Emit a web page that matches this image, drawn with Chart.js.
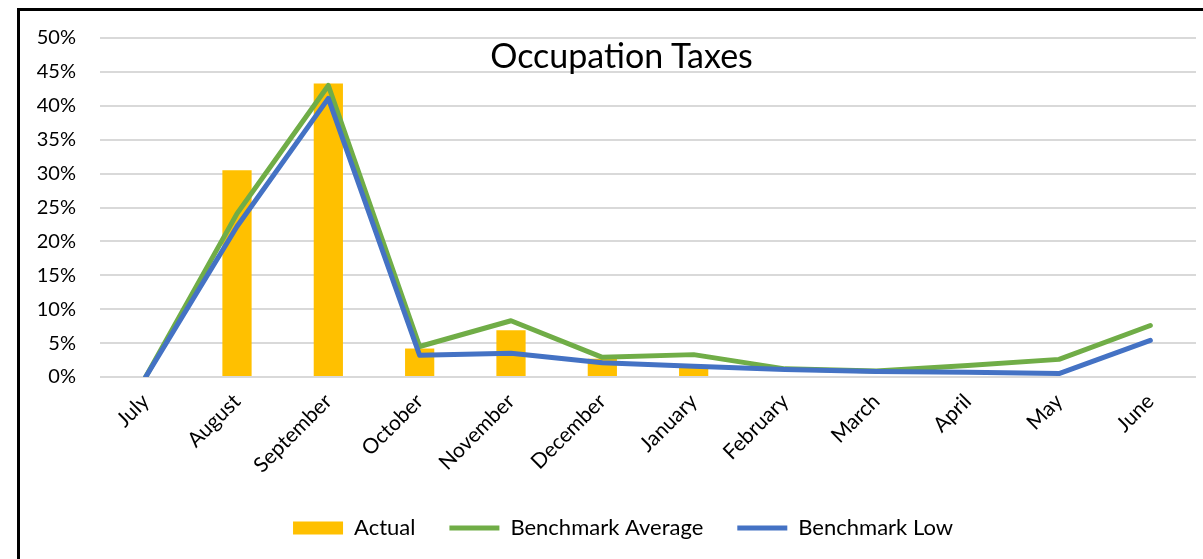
<!DOCTYPE html>
<html>
<head>
<meta charset="utf-8">
<script src="https://cdn.jsdelivr.net/npm/chart.js@4/dist/chart.umd.min.js"></script>
<style>
  html, body { margin: 0; padding: 0; background: #fff; width: 1203px; height: 559px; overflow: hidden; }
  #frame { position: absolute; left: 17px; top: 8px; width: 1186px; height: 551px;
           border-top: 3px solid #000; border-left: 3px solid #000; box-sizing: border-box; }
  #wrap { position: absolute; left: 0; top: 0; right: 0; bottom: 0; }
  #title { position: absolute; left: 20px; width: 1203px; top: 34px; text-align: center;
           font-family: Lato, sans-serif; font-size: 34px; color: #000; pointer-events: none; }
</style>
</head>
<body>
<div id="frame"><div id="wrap"><canvas id="c"></canvas></div></div>
<div id="title">Occupation Taxes</div>
<script>
const categories = ["July","August","September","October","November","December","January","February","March","April","May","June"];
const actual = [0, 30.5, 43.3, 4.2, 6.9, 2.7, 1.6, 0, 0, 0, 0, 0];
const benchmarkAverage = [0, 24.1, 43.0, 4.5, 8.3, 2.9, 3.3, 1.2, 0.9, 1.7, 2.6, 7.6];
const benchmarkLow = [0, 22.2, 41.1, 3.2, 3.5, 2.1, 1.6, 1.1, 0.8, 0.7, 0.5, 5.4];
const yTicks = [0, 5, 10, 15, 20, 25, 30, 35, 40, 45, 50];

const FONT = "Lato";
const legendShift = {
  id: "legendShift",
  afterLayout(chart) {
    if (chart.legend) { chart.legend.left += 15; chart.legend.right += 15; }
  }
};
new Chart(document.getElementById("c"), {
  type: "bar",
  plugins: [legendShift],
  data: {
    labels: categories,
    datasets: [
      { type: "bar", label: "Actual", data: actual, backgroundColor: "#FFC000",
        barPercentage: 0.32, categoryPercentage: 1, order: 3, pointStyle: "rect" },
      { type: "line", label: "Benchmark Average", data: benchmarkAverage, borderColor: "#70AD47",
        backgroundColor: "#70AD47", borderWidth: 5, pointRadius: 0, tension: 0, order: 2,
        borderCapStyle: "round", borderJoinStyle: "round", pointStyle: "line" },
      { type: "line", label: "Benchmark Low", data: benchmarkLow, borderColor: "#4472C4",
        backgroundColor: "#4472C4", borderWidth: 5, pointRadius: 0, tension: 0, order: 1,
        borderCapStyle: "round", borderJoinStyle: "round", pointStyle: "line" }
    ]
  },
  options: {
    responsive: true,
    maintainAspectRatio: false,
    animation: false,
    layout: { padding: { top: 27, right: 7, bottom: 10, left: 0 } },
    plugins: {
      title: { display: false },
      tooltip: { enabled: false },
      legend: {
        position: "bottom",
        labels: {
          usePointStyle: true,
          pointStyleWidth: 50,
          boxHeight: 13,
          padding: 34,
          color: "#000",
          font: { family: FONT, size: 22 },
          sort: (a, b) => a.datasetIndex - b.datasetIndex
        }
      }
    },
    scales: {
      x: {
        offset: true,
        grid: { display: false, drawTicks: false },
        border: { display: false },
        ticks: { color: "#000", font: { family: FONT, size: 21 }, minRotation: 45, maxRotation: 45, padding: 12 },
        afterFit: (s) => { s.height = 106; s.paddingLeft = 0; s.paddingRight = 0; }
      },
      y: {
        min: 0, max: 50,
        afterBuildTicks: (s) => { s.ticks = yTicks.map(v => ({ value: v })); },
        grid: { color: "#d9d9d9", lineWidth: 2, drawTicks: false },
        border: { display: false },
        ticks: { color: "#000", font: { family: FONT, size: 20 }, padding: 24, callback: (v) => v + "%" },
        afterFit: (s) => { s.width = 80; s.paddingTop = 0; s.paddingBottom = 0; }
      }
    }
  }
});
</script>
</body>
</html>
